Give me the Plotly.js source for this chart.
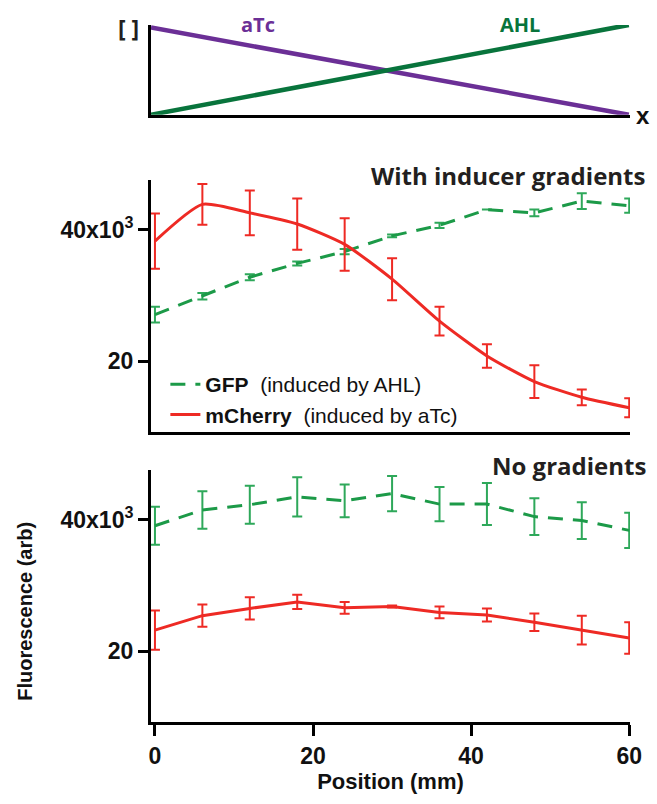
<!DOCTYPE html>
<html>
<head>
<meta charset="utf-8">
<script src="https://cdn.plot.ly/plotly-3.0.1.min.js"></script>
<style>html,body{margin:0;padding:0;background:#fff;}#chart{width:657px;height:804px;}</style>
</head>
<body>
<div id="chart"></div>
<script>
// Position (mm)
const positions = [0, 6, 12, 18, 24, 30, 36, 42, 48, 54, 60];

// With inducer gradients (fluorescence, x10^3 arb)
const gfpGrad      = [27.1, 29.9, 32.8, 34.9, 36.7, 39.1, 40.7, 43.1, 42.6, 44.4, 43.7];
const gfpGradErr   = [1.2, 0.5, 0.45, 0.3, 0.4, 0.2, 0.4, 0.0, 0.5, 1.2, 1.1];
const mchGrad      = [38.3, 43.9, 42.6, 40.9, 37.8, 32.5, 26.1, 20.8, 16.9, 14.5, 12.9];
const mchGradErr   = [4.2, 3.1, 3.4, 3.9, 4.0, 3.2, 2.2, 1.8, 2.5, 1.2, 1.45];

// No gradients
const gfpNoGrad    = [39.1, 41.5, 42.3, 43.5, 42.9, 44.0, 42.4, 42.4, 40.5, 39.9, 38.4];
const gfpNoGradErr = [2.9, 2.85, 2.9, 3.0, 2.5, 2.7, 2.6, 3.2, 2.8, 2.8, 2.7];
const mchNoGrad    = [23.2, 25.4, 26.5, 27.5, 26.6, 26.8, 25.9, 25.5, 24.4, 23.2, 22.0];
const mchNoGradErr = [3.0, 1.7, 1.7, 1.1, 0.9, 0.15, 0.9, 1.0, 1.35, 2.2, 2.4];

// Schematic inducer gradients
const schemX = [0, 60];
const atcLevel = [1, 0];
const ahlLevel = [0, 1.03];

// Tick labels
const xTicks = [0, 20, 40, 60];
const yTicks = [20, 40];
const yTickText = ['20', '40x10<sup>3</sup>'];

const RED = '#ee2a24';
const GREEN = '#1c9a48';
const GREEN_ERR = '#2ea85a';
const PURPLE = '#6b2f96';
const DKGREEN = '#08743c';
const FONT = 'Liberation Sans, Arial, sans-serif';
const TFONT = 'Open Sans, sans-serif';

const traces = [
  {x: schemX, y: atcLevel, xaxis: 'x3', yaxis: 'y3', mode: 'lines', line: {color: PURPLE, width: 4.5}, showlegend: false, hoverinfo: 'skip'},
  {x: schemX, y: ahlLevel, xaxis: 'x3', yaxis: 'y3', mode: 'lines', line: {color: DKGREEN, width: 4.5}, showlegend: false, hoverinfo: 'skip'},
  {x: positions, y: gfpGrad, xaxis: 'x2', yaxis: 'y2', mode: 'lines', name: '<b>GFP</b>&nbsp; (induced by AHL)',
   line: {color: GREEN, width: 3, dash: '15px,10px'},
   error_y: {type: 'data', array: gfpGradErr, visible: true, color: GREEN_ERR, thickness: 2, width: 5}},
  {x: positions, y: mchGrad, xaxis: 'x2', yaxis: 'y2', mode: 'lines', name: '<b>mCherry</b>&nbsp; (induced by aTc)',
   line: {color: RED, width: 3, shape: 'spline', smoothing: 0.6},
   error_y: {type: 'data', array: mchGradErr, visible: true, color: RED, thickness: 2, width: 5}},
  {x: positions, y: gfpNoGrad, xaxis: 'x', yaxis: 'y', mode: 'lines', showlegend: false,
   line: {color: GREEN, width: 3, dash: '15px,10px'},
   error_y: {type: 'data', array: gfpNoGradErr, visible: true, color: GREEN_ERR, thickness: 2, width: 5}},
  {x: positions, y: mchNoGrad, xaxis: 'x', yaxis: 'y', mode: 'lines', showlegend: false,
   line: {color: RED, width: 3},
   error_y: {type: 'data', array: mchNoGradErr, visible: true, color: RED, thickness: 2, width: 5}}
];

const yCommon = {
  range: [9.2, 47.6], tickmode: 'array', tickvals: yTicks, ticktext: yTickText,
  ticks: 'outside', ticklen: 10, tickwidth: 3, tickcolor: '#000',
  showline: true, linewidth: 3, linecolor: '#000', showgrid: false, zeroline: false,
  tickfont: {family: FONT, size: 23, color: '#111', weight: 'bold'}
};

const layout = {
  width: 657, height: 804,
  margin: {l: 151, r: 27, t: 20, b: 82},
  paper_bgcolor: '#fff', plot_bgcolor: '#fff',
  font: {family: FONT, color: '#111'},
  showlegend: true,
  legend: {x: 0.03, y: 0.51, xanchor: 'left', yanchor: 'top', bgcolor: 'rgba(0,0,0,0)',
           font: {family: FONT, size: 21, color: '#111'}, tracegroupgap: 0, itemwidth: 30},
  xaxis: {anchor: 'y', domain: [0, 1], range: [-0.5, 60.1], tickmode: 'array', tickvals: xTicks,
          ticks: 'outside', ticklen: 11, tickwidth: 3, tickcolor: '#000',
          showline: true, linewidth: 3, linecolor: '#000', showgrid: false, zeroline: false,
          tickfont: {family: FONT, size: 23, color: '#111', weight: 'bold'},
          title: {text: '<b>Position (mm)</b>', font: {family: FONT, size: 22, color: '#111'}, standoff: 4}},
  xaxis2: {anchor: 'y2', domain: [0, 1], range: [-0.5, 60.1], showticklabels: false, ticks: '',
           showline: true, linewidth: 3, linecolor: '#000', showgrid: false, zeroline: false},
  xaxis3: {anchor: 'y3', domain: [0, 1], range: [0, 60.15], showticklabels: false, ticks: '',
           showline: true, linewidth: 3, linecolor: '#000', showgrid: false, zeroline: false},
  yaxis: Object.assign({anchor: 'x', domain: [0, 0.359]}, yCommon),
  yaxis2: Object.assign({anchor: 'x2', domain: [0.413, 0.772]}, yCommon),
  yaxis3: {anchor: 'x3', domain: [0.865, 0.993], range: [0, 1.03], showticklabels: false, ticks: '',
           showline: true, linewidth: 3, linecolor: '#000', showgrid: false, zeroline: false},
  annotations: [
    {text: '<b>With inducer gradients</b>', xref: 'paper', yref: 'paper', x: 1.0376, y: 0.779,
     xanchor: 'right', yanchor: 'middle', showarrow: false, font: {family: TFONT, size: 24, color: '#231f20'}},
    {text: '<b>No gradients</b>', xref: 'paper', yref: 'paper', x: 1.0376, y: 0.366,
     xanchor: 'right', yanchor: 'middle', showarrow: false, font: {family: TFONT, size: 24, color: '#231f20'}},
    {text: '<b>Fluorescence (arb)</b>', xref: 'paper', yref: 'paper', x: -0.263, y: 0.157, textangle: -90,
     xanchor: 'center', yanchor: 'middle', showarrow: false, font: {family: FONT, size: 20, color: '#111'}},
    {text: '<b>[ ]</b>', xref: 'paper', yref: 'paper', x: -0.048, y: 0.9886,
     xanchor: 'center', yanchor: 'middle', showarrow: false, font: {family: TFONT, size: 23, color: '#231f20'}},
    {text: '<b>aTc</b>', xref: 'paper', yref: 'paper', x: 0.223, y: 0.993,
     xanchor: 'center', yanchor: 'middle', showarrow: false, font: {family: TFONT, size: 20, color: PURPLE}},
    {text: '<b>AHL</b>', xref: 'paper', yref: 'paper', x: 0.770, y: 0.993,
     xanchor: 'center', yanchor: 'middle', showarrow: false, font: {family: TFONT, size: 20, color: DKGREEN}},
    {text: '<b>x</b>', xref: 'paper', yref: 'paper', x: 1.027, y: 0.864,
     xanchor: 'center', yanchor: 'middle', showarrow: false, font: {family: FONT, size: 24, color: '#111'}}
  ]
};

Plotly.newPlot('chart', traces, layout, {displayModeBar: false, staticPlot: true});
</script>
</body>
</html>
